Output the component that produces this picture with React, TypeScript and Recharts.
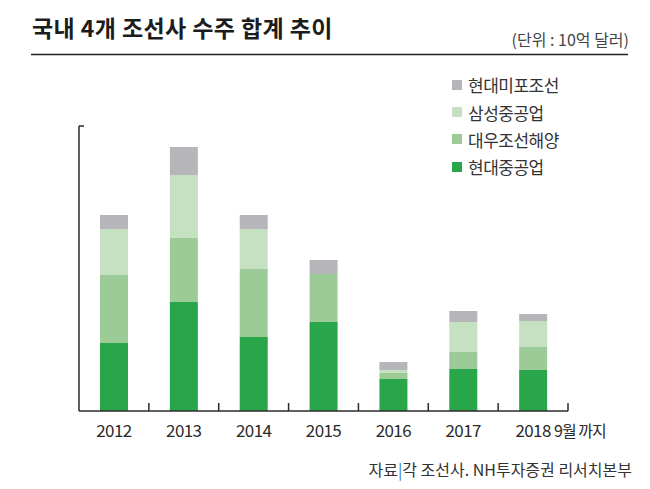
import React from 'react';
import { BarChart, Bar, XAxis, YAxis, Legend } from 'recharts';

const categories = ['2012', '2013', '2014', '2015', '2016', '2017', '2018'];
const tickLabels = ['2012', '2013', '2014', '2015', '2016', '2017', '2018 9월 까지'];
const hyundaiHeavy = [6.8, 10.9, 7.4, 8.9, 3.2, 4.2, 4.1];
const daewoo = [6.8, 6.4, 6.8, 4.8, 0.6, 1.7, 2.3];
const samsung = [4.6, 6.3, 4.0, 0, 0.3, 3.0, 2.6];
const mipo = [1.4, 2.8, 1.4, 1.4, 0.8, 1.1, 0.7];
const legendOrder = ['현대미포조선', '삼성중공업', '대우조선해양', '현대중공업'];
const yMax = 28.5;

const data = categories.map((c, i) => ({
  year: c,
  hyundaiHeavy: hyundaiHeavy[i],
  daewoo: daewoo[i],
  samsung: samsung[i],
  mipo: mipo[i],
}));

const AXIS = '#2b2b2b';
const KFONT = '"Noto Sans CJK KR", "Noto Sans", sans-serif';
const NFONT = '"Liberation Sans Narrow", "Noto Sans CJK KR", sans-serif';

const CatTick = (props: any) => {
  const { x, y, index, width, visibleTicksCount } = props;
  const label = tickLabels[index] || '';
  const sp = label.indexOf(' ');
  const year = sp > 0 ? label.slice(0, sp) : label;
  const rest = sp > 0 ? label.slice(sp + 1) : '';
  const n = visibleTicksCount || categories.length;
  const half = Number(width) / n / 2;
  const bx = x + half;
  return (
    <g>
      {isFinite(bx) ? (
        <line x1={bx} x2={bx} y1={y} y2={y - 8} stroke={AXIS} strokeWidth={1.5} />
      ) : null}
      <text x={x} y={y + 26} textAnchor="middle" fontSize={17} fill="#2a2a2a" fontFamily={NFONT} letterSpacing={-0.6}>
        {year}
      </text>
      {rest ? (
        <text x={x + 21} y={y + 26} textAnchor="start" fontSize={16} fill="#2a2a2a" fontFamily={KFONT} letterSpacing={-1}>
          {rest}
        </text>
      ) : null}
    </g>
  );
};

const TopTick = (props: any) => {
  const { x, y } = props;
  return <line x1={x} x2={x + 5} y1={y} y2={y} stroke={AXIS} strokeWidth={1.5} />;
};

const LegendContent = (props: any) => {
  const items = [...(props.payload || [])].sort(
    (a: any, b: any) => legendOrder.indexOf(a.value) - legendOrder.indexOf(b.value)
  );
  return (
    <div style={{ fontFamily: KFONT }}>
      {items.map((it: any) => (
        <div key={it.value} style={{ display: 'flex', alignItems: 'center', height: 27.4 }}>
          <span style={{ display: 'inline-block', width: 10, height: 10, background: it.color, marginRight: 6 }} />
          <span style={{ fontSize: 17, color: '#333', letterSpacing: -0.5 }}>{it.value}</span>
        </div>
      ))}
    </div>
  );
};

export default function App() {
  return (
    <div style={{ position: 'absolute', left: 0, top: 0, width: 650, height: 489, background: '#fff' }}>
      <BarChart
        width={650}
        height={489}
        data={data}
        margin={{ top: 126, right: 82, left: 78, bottom: 48 }}
      >
        <XAxis
          dataKey="year"
          height={30}
          tickSize={0}
          tickMargin={0}
          tickLine={false}
          axisLine={{ stroke: AXIS, strokeWidth: 1.5 }}
          tick={CatTick}
          interval={0}
        />
        <YAxis
          type="number"
          domain={[0, yMax]}
          ticks={[yMax]}
          width={1}
          tickSize={0}
          tickMargin={0}
          tickLine={false}
          axisLine={{ stroke: AXIS, strokeWidth: 1.5 }}
          tick={TopTick}
          allowDataOverflow
        />
        <Legend
          layout="vertical"
          align="center"
          verticalAlign="middle"
          content={LegendContent}
          wrapperStyle={{ position: 'absolute', left: 452, top: 71, width: 160 }}
        />
        <Bar dataKey="hyundaiHeavy" name="현대중공업" stackId="a" fill="#29a64a" barSize={28} isAnimationActive={false} />
        <Bar dataKey="daewoo" name="대우조선해양" stackId="a" fill="#9dcb98" barSize={28} isAnimationActive={false} />
        <Bar dataKey="samsung" name="삼성중공업" stackId="a" fill="#c6e1c1" barSize={28} isAnimationActive={false} />
        <Bar dataKey="mipo" name="현대미포조선" stackId="a" fill="#b6b6ba" barSize={28} isAnimationActive={false} />
      </BarChart>
      <svg
        width={650}
        height={489}
        style={{ position: 'absolute', left: 0, top: 0, pointerEvents: 'none' }}
      >
        <text x={32} y={37} fontSize={23} fontWeight={700} fill="#1c1c1c" fontFamily={KFONT} letterSpacing={0.4}>
          국내 4개 조선사 수주 합계 추이
        </text>
        <text x={629} y={46} fontSize={16} fill="#444" fontFamily={KFONT} textAnchor="end" letterSpacing={0}>
          (단위 : 10억 달러)
        </text>
        <line x1={31} x2={628} y1={54.5} y2={54.5} stroke="#222" strokeWidth={1.5} />
        <text x={632} y={476} fontSize={16} fill="#333" fontFamily={KFONT} textAnchor="end" letterSpacing={0}>
          자료<tspan fill="#3b7cc4">|</tspan>각 조선사. NH투자증권 리서치본부
        </text>
      </svg>
    </div>
  );
}
